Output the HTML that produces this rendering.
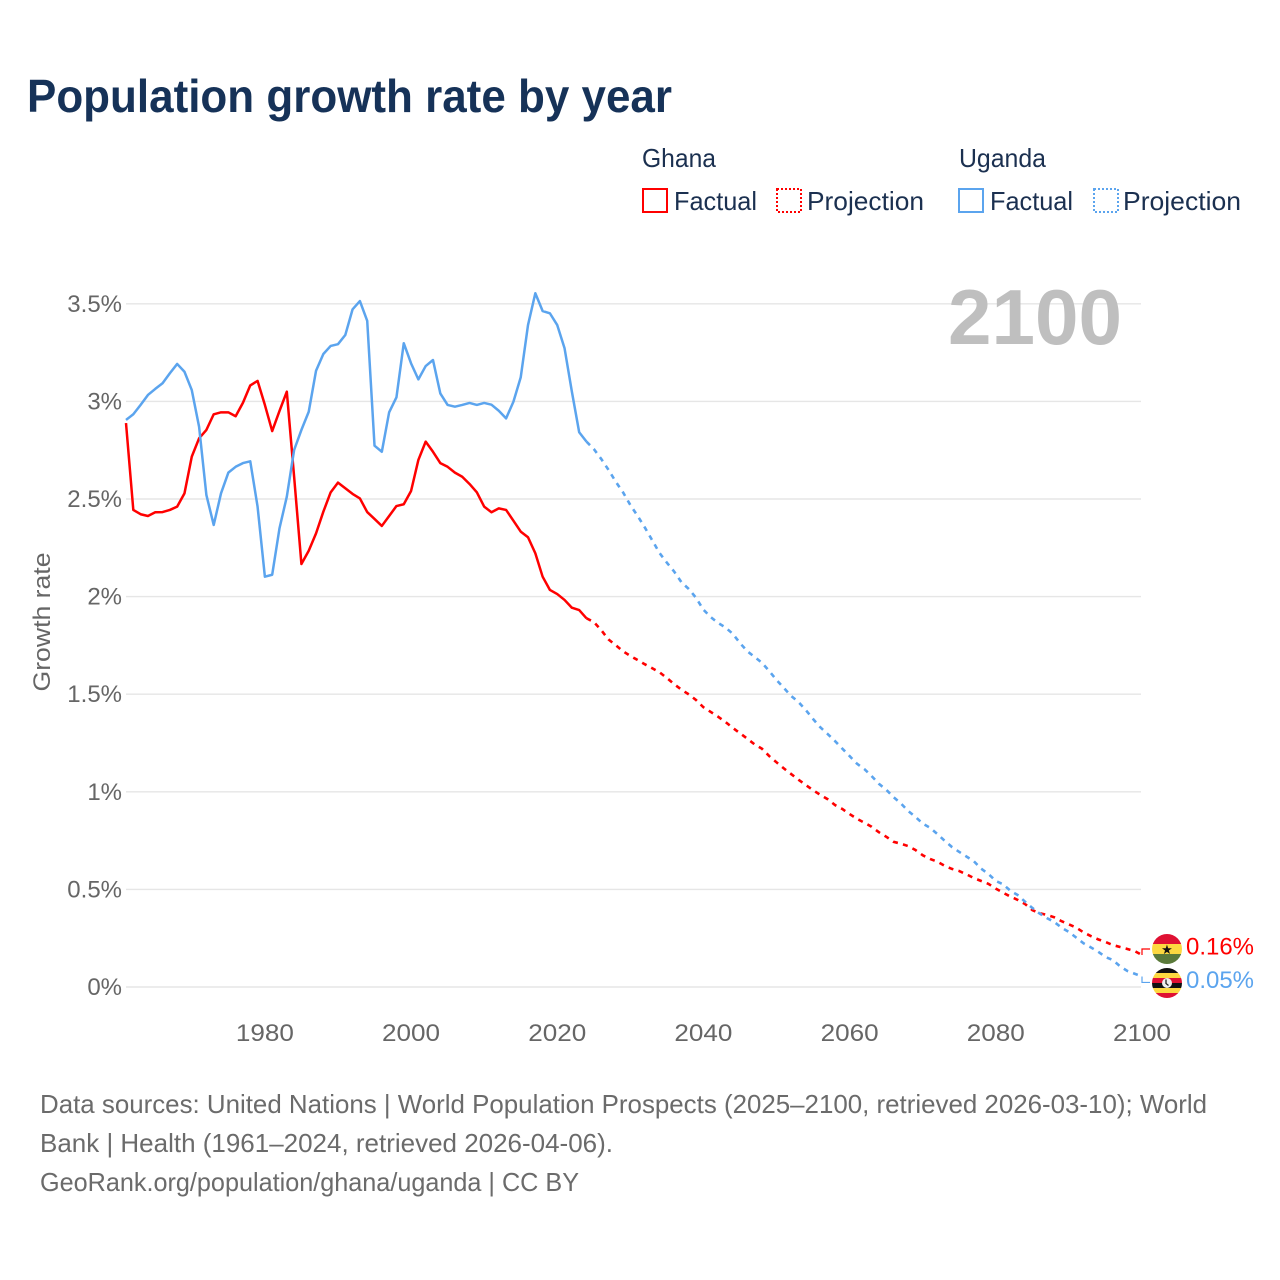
<!DOCTYPE html>
<html lang="en">
<head>
<meta charset="utf-8">
<title>Population growth rate by year</title>
<style>
html,body{margin:0;padding:0;background:#fff;}
svg{display:block;font-family:"Liberation Sans",sans-serif;}
</style>
</head>
<body>
<svg id="chart" width="1280" height="1280" viewBox="0 0 1280 1280" xmlns="http://www.w3.org/2000/svg">
  <defs>
    <clipPath id="clip-ghana"><circle cx="1167" cy="949" r="15"/></clipPath>
    <clipPath id="clip-uganda"><circle cx="1167" cy="983" r="15"/></clipPath>
  </defs>
  <rect x="0" y="0" width="1280" height="1280" fill="#fff"/>
  <text x="27" y="112" font-size="46" font-weight="700" fill="#163258" textLength="645" lengthAdjust="spacingAndGlyphs">Population growth rate by year</text>

  <g font-size="26" fill="#1b3050">
    <text x="642" y="167" textLength="74" lengthAdjust="spacingAndGlyphs">Ghana</text>
    <text x="959" y="167" textLength="87" lengthAdjust="spacingAndGlyphs">Uganda</text>
    <g>
      <rect x="643" y="189" width="24" height="23" fill="none" stroke="#ff0000" stroke-width="2"/>
      <text x="674" y="210" textLength="83" lengthAdjust="spacingAndGlyphs">Factual</text>
    </g>
    <g>
      <rect x="777" y="189" width="24" height="23" fill="none" stroke="#ff0000" stroke-width="2" stroke-dasharray="2 2"/>
      <text x="807" y="210" textLength="117" lengthAdjust="spacingAndGlyphs">Projection</text>
    </g>
    <g>
      <rect x="959" y="189" width="24" height="23" fill="none" stroke="#5ba4ee" stroke-width="2"/>
      <text x="990" y="210" textLength="83" lengthAdjust="spacingAndGlyphs">Factual</text>
    </g>
    <g>
      <rect x="1094" y="189" width="24" height="23" fill="none" stroke="#5ba4ee" stroke-width="2" stroke-dasharray="2 2"/>
      <text x="1123" y="210" textLength="118" lengthAdjust="spacingAndGlyphs">Projection</text>
    </g>
  </g>

  <g id="grid"></g>
  <text x="948" y="344" font-size="78" font-weight="700" fill="#bfbfbf" textLength="174" lengthAdjust="spacingAndGlyphs">2100</text>
  <g id="yticks" font-size="24" fill="#666"></g>
  <g id="xticks" font-size="24" fill="#666"></g>
  <text transform="translate(50,622) rotate(-90)" text-anchor="middle" font-size="24" fill="#666" textLength="139" lengthAdjust="spacingAndGlyphs">Growth rate</text>
  <g id="series"></g>

  <g clip-path="url(#clip-ghana)">
    <rect x="1152" y="934" width="30" height="10" fill="#df1133"/>
    <rect x="1152" y="944" width="30" height="10" fill="#fdd840"/>
    <rect x="1152" y="954" width="30" height="10" fill="#5b7a3b"/>
    <text x="1167" y="954" text-anchor="middle" font-family="'DejaVu Sans',sans-serif" font-size="13" fill="#111">★</text>
  </g>
  <g clip-path="url(#clip-uganda)">
    <rect x="1152" y="968" width="30" height="5" fill="#111"/>
    <rect x="1152" y="973" width="30" height="5" fill="#fdd840"/>
    <rect x="1152" y="978" width="30" height="5" fill="#df1133"/>
    <rect x="1152" y="983" width="30" height="5" fill="#111"/>
    <rect x="1152" y="988" width="30" height="5" fill="#fdd840"/>
    <rect x="1152" y="993" width="30" height="5" fill="#df1133"/>
    <circle cx="1167" cy="983" r="5" fill="#eee"/>
    <path d="M1166 979.5v4l2.5 2" fill="none" stroke="#222" stroke-width="1.3"/>
  </g>

  <g font-size="26" fill="#6b6b6b">
    <text x="40" y="1113" textLength="1167" lengthAdjust="spacingAndGlyphs">Data sources: United Nations | World Population Prospects (2025–2100, retrieved 2026-03-10); World</text>
    <text x="40" y="1152" textLength="573" lengthAdjust="spacingAndGlyphs">Bank | Health (1961–2024, retrieved 2026-04-06).</text>
    <text x="40" y="1191" textLength="539" lengthAdjust="spacingAndGlyphs">GeoRank.org/population/ghana/uganda | CC BY</text>
  </g>
</svg>
<script>
const firstYear = 1961;
const lastFactualYear = 2024;
const yTickValues = [0, 0.5, 1, 1.5, 2, 2.5, 3, 3.5];
const yTickLabels = ['0%', '0.5%', '1%', '1.5%', '2%', '2.5%', '3%', '3.5%'];
const xTickValues = [1980, 2000, 2020, 2040, 2060, 2080, 2100];
const xTickLabels = ['1980', '2000', '2020', '2040', '2060', '2080', '2100'];

const ghanaFactual = [2.889,2.444,2.422,2.413,2.432,2.433,2.444,2.461,2.529,2.717,2.811,2.854,2.934,2.944,2.944,2.924,2.993,3.082,3.105,2.982,2.848,2.951,3.050,2.614,2.167,2.235,2.324,2.435,2.534,2.584,2.555,2.526,2.503,2.433,2.398,2.362,2.413,2.464,2.473,2.541,2.700,2.794,2.742,2.684,2.665,2.635,2.614,2.577,2.534,2.461,2.432,2.452,2.444,2.389,2.333,2.304,2.222,2.102,2.034,2.013,1.983,1.943,1.931,1.889];
const ghanaProjection = [1.870,1.829,1.781,1.751,1.720,1.696,1.675,1.653,1.633,1.612,1.583,1.551,1.523,1.499,1.470,1.433,1.409,1.385,1.358,1.328,1.300,1.272,1.243,1.221,1.183,1.151,1.120,1.091,1.062,1.035,1.008,0.984,0.962,0.932,0.912,0.886,0.862,0.842,0.821,0.793,0.770,0.744,0.734,0.722,0.702,0.675,0.656,0.642,0.621,0.605,0.594,0.577,0.558,0.543,0.528,0.504,0.483,0.463,0.446,0.425,0.394,0.378,0.369,0.357,0.337,0.321,0.304,0.280,0.261,0.244,0.231,0.215,0.205,0.195,0.184,0.164];
const ugandaFactual = [2.905,2.934,2.982,3.033,3.064,3.093,3.144,3.192,3.152,3.058,2.870,2.520,2.367,2.529,2.635,2.665,2.684,2.693,2.461,2.102,2.112,2.350,2.512,2.751,2.854,2.947,3.157,3.243,3.284,3.293,3.340,3.472,3.514,3.413,2.773,2.742,2.944,3.021,3.298,3.195,3.113,3.181,3.212,3.041,2.982,2.973,2.982,2.992,2.982,2.992,2.983,2.952,2.913,2.998,3.123,3.391,3.554,3.463,3.451,3.391,3.272,3.050,2.842,2.794];
const ugandaProjection = [2.756,2.706,2.650,2.589,2.534,2.469,2.413,2.353,2.288,2.223,2.174,2.128,2.073,2.039,1.993,1.933,1.895,1.865,1.842,1.810,1.762,1.720,1.691,1.661,1.619,1.573,1.532,1.491,1.460,1.419,1.373,1.330,1.296,1.260,1.221,1.183,1.144,1.117,1.081,1.041,1.011,0.973,0.941,0.902,0.872,0.837,0.816,0.784,0.749,0.717,0.692,0.668,0.644,0.606,0.579,0.543,0.526,0.493,0.471,0.437,0.405,0.376,0.353,0.333,0.304,0.282,0.253,0.224,0.203,0.181,0.154,0.138,0.106,0.082,0.068,0.054];

const NS = 'http://www.w3.org/2000/svg';
const xAxis = year => 126 + (year - 1961) * (1016 / 139);
const yAxis = value => 987 - value * 195.2;
const RED = '#ff0000';
const BLUE = '#5ba4ee';

function make(tag, attrs, parent, text) {
  const el = document.createElementNS(NS, tag);
  for (const k in attrs) el.setAttribute(k, attrs[k]);
  if (text !== undefined) el.textContent = text;
  parent.appendChild(el);
  return el;
}

const gridGroup = document.getElementById('grid');
const yTickGroup = document.getElementById('yticks');
yTickValues.forEach((v, i) => {
  const line = make('line', {x1: 126, x2: 1141, y1: yAxis(v), y2: yAxis(v), stroke: '#e6e6e6', 'stroke-width': 1.4}, gridGroup);
  
  
  const label = make('text', {x: 122, y: yAxis(v) + 8, 'text-anchor': 'end'}, yTickGroup, yTickLabels[i]);
  
  
});

const xTickGroup = document.getElementById('xticks');
xTickValues.forEach((v, i) => {
  const label = make('text', {x: xAxis(v) - 29, y: 1041, textLength: 58, lengthAdjust: 'spacingAndGlyphs'}, xTickGroup, xTickLabels[i]);
  
  
});

function pathFrom(values, startYear) {
  return values.map((v, i) => (i ? 'L' : 'M') + xAxis(startYear + i).toFixed(2) + ' ' + yAxis(v).toFixed(2)).join('');
}

const seriesGroup = document.getElementById('series');
function drawCountry(factual, projection, color, labelDy) {
  const solid = make('path', {d: pathFrom(factual, firstYear), fill: 'none', stroke: color, 'stroke-width': 2.5, 'stroke-linejoin': 'round'}, seriesGroup);
  
  
  const lastFactual = factual[factual.length - 1];
  const dashed = make('path', {d: pathFrom([lastFactual].concat(projection), lastFactualYear), fill: 'none', stroke: color, 'stroke-width': 2.6, 'stroke-dasharray': '5 5.3'}, seriesGroup);
  
  
  const lastValue = projection[projection.length - 1];
  const ex = xAxis(2100);
  const ey = yAxis(lastValue);
  const connector = make('path', {d: 'M' + ex + ' ' + ey + 'V' + (ey + labelDy) + 'H' + (ex + 8), fill: 'none', stroke: color, 'stroke-width': 1.2}, seriesGroup);
  
  
  const valueLabel = make('text', {x: 1186, y: ey + labelDy + 5.5, 'font-size': 24, fill: color, textLength: 68, lengthAdjust: 'spacingAndGlyphs'}, seriesGroup, lastValue.toFixed(2) + '%');
  
  
}

drawCountry(ghanaFactual, ghanaProjection, RED, -6);
drawCountry(ugandaFactual, ugandaProjection, BLUE, 6);
</script>
</body>
</html>
